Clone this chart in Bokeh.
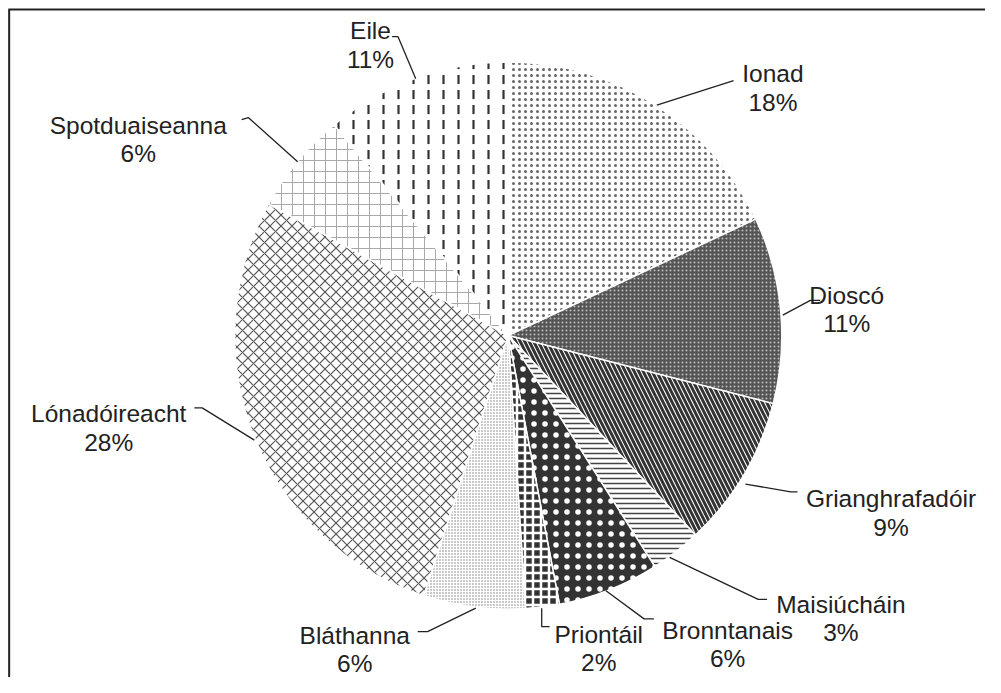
import math
from bokeh.plotting import figure
from bokeh.models import ColumnDataSource, Range1d
from bokeh.core.properties import value
from bokeh.embed import file_html
from bokeh.resources import INLINE

# ---- data ----
categories = ["Ionad", "Dioscó", "Grianghrafadóir", "Maisiúcháin", "Bronntanais",
              "Priontáil", "Bláthanna", "Lónadóireacht", "Spotduaiseanna", "Eile"]
percents = [18, 11, 9, 3, 6, 2, 6, 28, 6, 11]
pct_labels = [f"{v}%" for v in percents]

# ---- styles (per slice) ----
fill_colors = ["white", "#555555", "white", "white", "#333333",
               "#333333", "white", "white", "white", "white"]
hatch_patterns = ["dot", "dot", "left_diagonal_line", "horizontal_line", "dot",
                  "cross", "dot", "diagonal_cross", "cross", "vertical_dash"]
hatch_colors = ["#666666", "#bdbdbd", "#333333", "#444444", "white",
                "white", "#7a7a7a", "#555555", "#a8a8a8", "#333333"]
hatch_scales = [6, 4, 9, 5, 11, 8, 3, 11, 11, 15]
hatch_weights = [0.5, 0.8, 3, 1.5, 1.5, 2.5, 0.6, 1.2, 1, 2.2]

# ---- layout: reference-image pixel coordinates (0..1001 x 0..693), data y = -pixel y ----
REF_W, REF_H = 1001, 693
W, H = 985, 677
cx, cy, r = 516, 343, 278

# label anchor positions (center x, baseline of first line)
label_x = [785, 860, 905, 854, 739, 608, 360, 110, 140, 376]
label_y = [75, 302, 510, 618, 645, 649, 650, 423, 128, 31]
line_gap = 29
leaders = [
    [(667, 107), (745, 82)],
    [(795, 322), (823, 307), (833, 307)],
    [(757, 495), (803, 503), (810, 503)],
    [(680, 570), (770, 613), (779, 613)],
    [(615, 604), (654, 633), (664, 633)],
    [(550, 622), (550, 641), (558, 641)],
    [(483, 622), (434, 646), (424, 646)],
    [(258, 450), (205, 417), (197, 417)],
    [(302, 165), (252, 120), (245, 122)],
    [(422, 80), (404, 37), (398, 37)],
]

total = sum(percents)
starts, ends = [], []
acc = 0
for v in percents:
    starts.append(math.pi / 2 - 2 * math.pi * acc / total)
    acc += v
    ends.append(math.pi / 2 - 2 * math.pi * acc / total)

src = ColumnDataSource(dict(
    start=starts, end=ends, fill=fill_colors, hp=hatch_patterns,
    hc=hatch_colors, hs=hatch_scales, hw=hatch_weights,
))

p = figure(width=W, height=H, output_backend="svg", toolbar_location=None,
           x_range=Range1d(0, REF_W), y_range=Range1d(-REF_H, 0),
           min_border=0)
p.xaxis.visible = False
p.yaxis.visible = False
p.grid.visible = False
p.outline_line_color = None
p.background_fill_color = "white"
p.border_fill_color = "white"

p.wedge(x=cx, y=-cy, radius=r, start_angle="start", end_angle="end",
        direction="clock", source=src, fill_color="fill",
        hatch_pattern="hp", hatch_color="hc", hatch_scale="hs", hatch_weight="hw",
        line_color="white", line_width=1.5)

# frame (only left and top edges visible in reference)
p.line([8.8, 8.8], [-REF_H, -9.3], line_color="#222222", line_width=2)
p.line([8, REF_W], [-9.3, -9.3], line_color="#222222", line_width=2)

# leader lines
p.multi_line(xs=[[pt[0] for pt in L] for L in leaders],
             ys=[[-pt[1] for pt in L] for L in leaders],
             line_color="#222222", line_width=1.3)

# labels
font = value("Liberation Sans")
p.text(x=label_x, y=[-y for y in label_y], text=categories, text_font=font,
       text_font_size="24.5px", text_align="center", text_baseline="alphabetic",
       text_color="#222222")
p.text(x=label_x, y=[-(y + line_gap) for y in label_y], text=pct_labels, text_font=font,
       text_font_size="24.5px", text_align="center", text_baseline="alphabetic",
       text_color="#222222")

open("out.html", "w").write(file_html(p, INLINE))
